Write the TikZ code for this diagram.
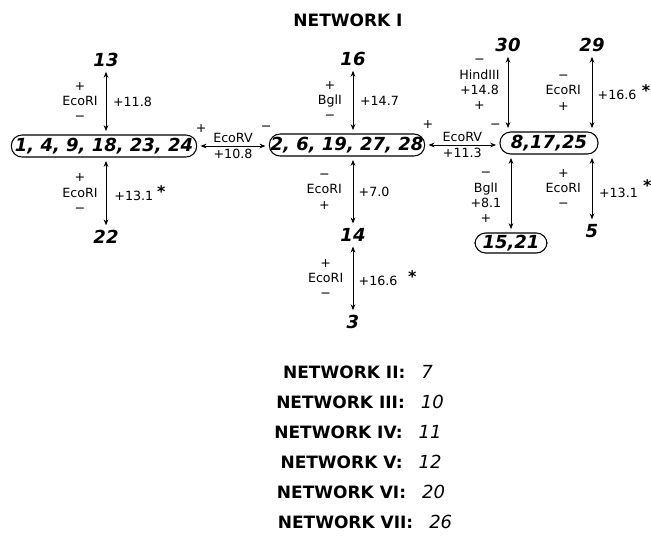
\documentclass[tikz,border=0pt]{standalone}
\usepackage{fontspec}
\setmainfont{DejaVu Sans}
\usetikzlibrary{arrows.meta}
\newcommand{\netno}[1]{{\fontsize{13.5}{16}\selectfont\mdseries\itshape #1}}
\newcommand{\signif}{\raisebox{2pt}{\fontsize{12}{12}\selectfont\bfseries *}}

\begin{document}
\begin{tikzpicture}[
    x=0.75pt, y=-0.75pt,
    grp/.style={draw, thick, rounded corners=8pt, minimum height=16.5pt,
        inner sep=1pt, font=\fontsize{13.5}{16}\selectfont\bfseries\itshape},
    lone/.style={inner sep=1pt, font=\fontsize{13.5}{16}\selectfont\bfseries\itshape},
    link/.style={{Stealth[length=4.5pt,width=3.5pt]}-{Stealth[length=4.5pt,width=3.5pt]},
        semithick, shorten <=2.5pt, shorten >=2.5pt},
    enz/.style={inner sep=0pt, align=center, font=\fontsize{9.5}{11.5}\selectfont},
    net/.style={font=\fontsize{12.75}{15}\selectfont\bfseries},
]
\useasboundingbox (0,0) rectangle (651,536);

\node[net] (title) at (348,20) {NETWORK I};

% clone groups
\node[grp, minimum width=139pt] (g1) at (104,146) {1, 4, 9, 18, 23, 24};
\node[grp, minimum width=116pt] (g2) at (347,145) {2, 6, 19, 27, 28};
\node[grp, minimum width=73.5pt] (g8) at (549,143) {8,17,25};
\node[grp, minimum width=54pt, minimum height=15pt] (g15) at (511,243) {15,21};

% single clones
\node[lone] (p13) at (106,60) {13};
\node[lone] (p22) at (106,237) {22};
\node[lone] (p16) at (353,59) {16};
\node[lone] (p14) at (353,235) {14};
\node[lone] (p3) at (353,322) {3};
\node[lone] (p30) at (508,45) {30};
\node[lone] (p29) at (592,45) {29};
\node[lone] (p5) at (592,231) {5};

% links around the first group
\draw[link] (p13.south) -- (p13.south |- g1.north)
    node[enz, midway, left=6pt] {+\\EcoRI\\−}
    node[enz, midway, right=5pt] {+11.8};
\draw[link] (g1.south -| p22.north) -- (p22.north)
    node[enz, midway, left=6pt] {+\\EcoRI\\−}
    node[enz, midway, right=6pt] {+13.1\hspace{3pt}\signif};
\draw[link] (g1.east) -- (g1.east -| g2.west)
    node[enz, midway, above=2pt] {EcoRV}
    node[enz, midway, below=2pt] {+10.8}
    node[enz, pos=0, above=10pt, xshift=3pt] {+}
    node[enz, pos=1, above=11pt, xshift=-2pt] {−};

% links around the second group
\draw[link] (p16.south) -- (p16.south |- g2.north)
    node[enz, midway, left=8pt] {+\\BglI\\−}
    node[enz, midway, right=5pt] {+14.7};
\draw[link] (g2.south -| p14.north) -- (p14.north)
    node[enz, midway, left=8pt] {−\\EcoRI\\+}
    node[enz, midway, right=4pt] {+7.0};
\draw[link] (p14.south) -- (p14.south |- p3.north)
    node[enz, midway, left=7pt] {+\\EcoRI\\−}
    node[enz, midway, right=4pt] {+16.6\hspace{8pt}\signif};
\draw[link] (g2.east) -- (g2.east -| g8.west)
    node[enz, midway, above=2pt] {EcoRV}
    node[enz, midway, below=2pt] {+11.3}
    node[enz, pos=0, above=12pt, xshift=2pt] {+}
    node[enz, pos=1, above=12pt, xshift=-3pt] {−};

% links around the third group
\draw[link] (p30.south) -- (p30.south |- g8.north)
    node[enz, midway, left=6pt, yshift=6pt] {−\\HindIII\\+14.8\\+};
\draw[link] (p29.south) -- (p29.south |- g8.north)
    node[enz, midway, left=8pt] {−\\EcoRI\\+}
    node[enz, midway, right=4pt] {+16.6\hspace{4pt}\signif};
\draw[link] (g8.south -| g15.north) -- (g15.north)
    node[enz, midway, left=7pt, yshift=-3pt] {−\\BglI\\+8.1\\+};
\draw[link] (g8.south -| p5.north) -- (p5.north)
    node[enz, midway, left=8pt] {+\\EcoRI\\−}
    node[enz, midway, right=5pt] {+13.1\hspace{4pt}\raisebox{2pt}{\signif}};

% the other networks
\node[net] (netII) at (358,372) {NETWORK II:\hspace{12pt}\netno{7}};
\node[net] (netIII) at (360,402) {NETWORK III:\hspace{12pt}\netno{10}};
\node[net] (netIV) at (358,432) {NETWORK IV:\hspace{12pt}\netno{11}};
\node[net] (netV) at (361,462) {NETWORK V:\hspace{12pt}\netno{12}};
\node[net] (netVI) at (361,492) {NETWORK VI:\hspace{12pt}\netno{20}};
\node[net] (netVII) at (365,522) {NETWORK VII:\hspace{12pt}\netno{26}};

\end{tikzpicture}
\end{document}
